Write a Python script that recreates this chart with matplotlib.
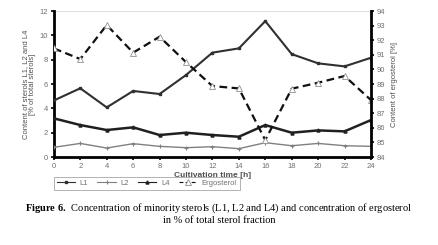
import numpy as np
import matplotlib.pyplot as plt

hours = [0, 2, 4, 6, 8, 10, 12, 14, 16, 18, 20, 22, 24]
l1 = [4.65, 5.65, 4.08, 5.43, 5.18, 6.74, 8.58, 8.93, 11.17, 8.46, 7.70, 7.45, 8.16]
l2 = [0.80, 1.12, 0.74, 1.10, 0.88, 0.77, 0.85, 0.69, 1.18, 0.93, 1.12, 0.93, 0.88]
l4 = [3.18, 2.63, 2.22, 2.44, 1.81, 2.00, 1.81, 1.67, 2.63, 2.00, 2.19, 2.11, 3.04]
ergosterol = [91.44, 90.71, 93.04, 91.15, 92.24, 90.50, 88.86, 88.70, 85.16, 88.68, 89.09, 89.55, 87.90]

narrow = ['Liberation Sans Narrow', 'Liberation Sans', 'DejaVu Sans']
serif = ['Liberation Serif', 'DejaVu Serif']
grey = '#707070'

plt.rcParams['mathtext.fontset'] = 'custom'
plt.rcParams['mathtext.rm'] = 'Liberation Serif'
plt.rcParams['mathtext.bf'] = 'Liberation Serif:bold'

fig = plt.figure(figsize=(4.38, 2.45), dpi=100)
ax = fig.add_axes([0.123, 0.359, 0.724, 0.596])
ax2 = ax.twinx()

ax.plot(hours, l1, color='#303030', lw=1.5, marker='s', ms=1.8, label='L1', zorder=3)
ax.plot(hours, l2, color='#808080', lw=1.0, marker='+', ms=2.5, mew=0.8, label='L2', zorder=3)
ax.plot(hours, l4, color='#202020', lw=1.8, marker='^', ms=2.2, label='L4', zorder=3)
ax2.plot(hours, ergosterol, color='#101010', lw=1.6, ls=(0, (3.5, 2)), marker='^', ms=4,
         mfc='white', mec='#909090', mew=0.6, label='Ergosterol')

ax.set_xlim(0, 24)
ax.set_ylim(0, 12)
ax2.set_ylim(84, 94)
ax.set_xticks(hours)
ax.set_yticks(range(0, 13, 2))
ax2.set_yticks(range(84, 95, 1))

for a in (ax, ax2):
    for s in a.spines.values():
        s.set_visible(False)
    a.tick_params(labelsize=5.5, labelcolor=grey, length=2, width=1.2, pad=2)
    for lab in a.get_xticklabels() + a.get_yticklabels():
        lab.set_family(narrow)

ax.spines['left'].set_visible(True)
ax.spines['left'].set_linewidth(2)
ax.spines['bottom'].set_visible(True)
ax.spines['bottom'].set_linewidth(2)
ax2.spines['right'].set_visible(True)
ax2.spines['right'].set_linewidth(2)
ax.axhline(12, color='#e0e0e0', lw=0.8)

ax.set_xlabel('Cultivation time [h]', fontsize=6, color='#505050', fontweight='bold',
              family=narrow, labelpad=2)
ax.set_ylabel('Content of sterols L1, L2 and L4\n[% of total sterols]', fontsize=5.5,
              color='#505050', family=narrow, labelpad=3, linespacing=1.0)
ax2.set_ylabel('Content of ergosterol [%]', fontsize=5.5, color='#505050', family=narrow,
               labelpad=4)

h1, lb1 = ax.get_legend_handles_labels()
h2, lb2 = ax2.get_legend_handles_labels()
leg = fig.legend(h1 + h2, lb1 + lb2, loc='upper left', bbox_to_anchor=(0.114, 0.295),
                 ncol=4, frameon=True, fancybox=False, edgecolor='#909090',
                 handlelength=2.4, columnspacing=1.2, borderpad=0.4, handletextpad=0.6,
                 prop={'family': narrow, 'size': 5.5})
leg.get_frame().set_linewidth(0.6)
for t in leg.get_texts():
    t.set_color(grey)
# thinner lines in the legend, like the original
for ln in leg.get_lines():
    ln.set_linewidth(0.8)

fig.text(0.5, 0.148, r'$\mathbf{Figure\ 6.\ }$Concentration of minority sterols (L1, L2 and L4) and concentration of ergosterol',
         ha='center', va='center', fontsize=7.5, family=serif)
fig.text(0.5, 0.1, 'in % of total sterol fraction', ha='center', va='center',
         fontsize=7.5, family=serif)

fig.savefig('out.png', dpi=100)
